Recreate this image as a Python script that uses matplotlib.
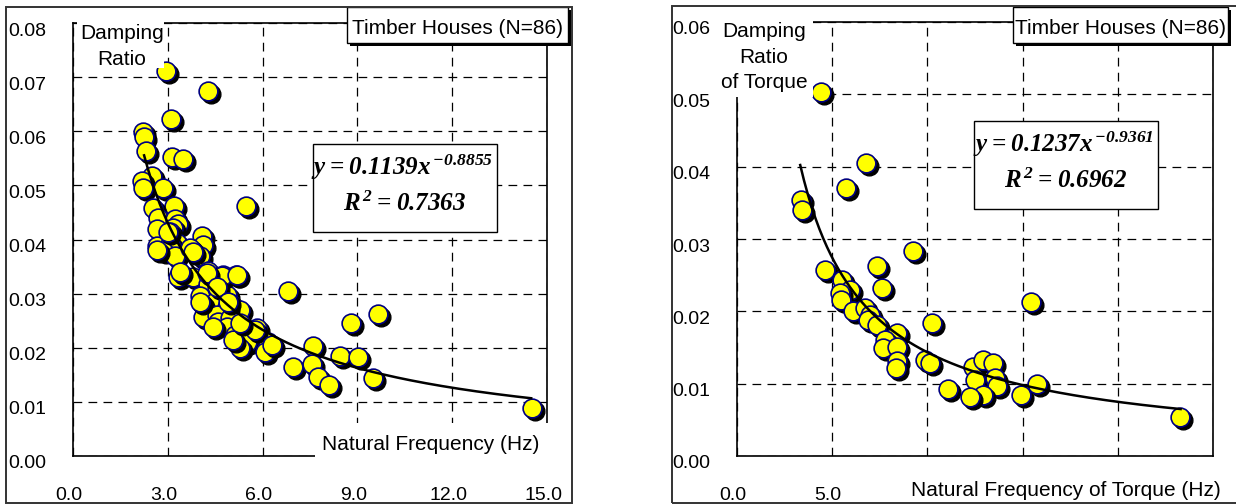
import numpy as np
import matplotlib
matplotlib.use('Agg')
import matplotlib.pyplot as plt
import matplotlib.transforms as mtransforms
from matplotlib.patches import Rectangle
from matplotlib.ticker import FormatStrFormatter

plt.rcParams['font.family'] = ['Liberation Sans', 'DejaVu Sans']
plt.rcParams['mathtext.default'] = 'regular'

# ---- data ----
# left: damping ratio vs natural frequency
freq = [2.94, 4.27, 3.10, 2.22, 2.25, 2.31, 3.13, 3.48, 2.50, 2.18,
        2.22, 2.85, 5.47, 3.20, 2.53, 2.69, 3.23, 3.32, 2.66, 3.16,
        3.07, 4.08, 3.29, 4.10, 2.66, 3.07, 2.85, 3.23, 3.80, 4.02,
        3.70, 3.32, 3.80, 4.27, 4.75, 5.16, 4.27, 4.59, 6.80, 4.02,
        4.87, 4.49, 4.08, 4.97, 5.28, 4.87, 4.11, 4.56, 4.59, 4.97,
        4.87, 4.43, 5.44, 5.82, 5.13, 5.44, 5.22, 5.51, 6.17, 6.08,
        5.28, 6.96, 9.65, 8.80, 7.60, 8.45, 9.02, 7.56, 7.75, 8.10,
        9.49, 14.52, 2.66, 3.80, 5.06, 5.76, 6.30, 4.70, 5.19, 4.24,
        4.55, 4.02, 3.40, 4.90, 5.30, 3.00]
damping = [0.0711, 0.0674, 0.0622, 0.0598, 0.0590, 0.0563, 0.0552, 0.0548, 0.0517, 0.0508,
           0.0496, 0.0496, 0.0461, 0.0461, 0.0459, 0.0440, 0.0437, 0.0428, 0.0420, 0.0422,
           0.0413, 0.0406, 0.0394, 0.0390, 0.0388, 0.0392, 0.0378, 0.0370, 0.0378, 0.0369,
           0.0385, 0.0330, 0.0330, 0.0341, 0.0335, 0.0335, 0.0317, 0.0313, 0.0304, 0.0296,
           0.0298, 0.0285, 0.0280, 0.0283, 0.0270, 0.0276, 0.0257, 0.0260, 0.0248, 0.0255,
           0.0239, 0.0239, 0.0233, 0.0237, 0.0224, 0.0220, 0.0209, 0.0211, 0.0211, 0.0192,
           0.0200, 0.0165, 0.0263, 0.0246, 0.0204, 0.0184, 0.0183, 0.0170, 0.0146, 0.0131,
           0.0144, 0.0089, 0.0381, 0.0376, 0.0215, 0.0233, 0.0206, 0.0332, 0.0335, 0.0339,
           0.0313, 0.0285, 0.0340, 0.0285, 0.0245, 0.0413]

# right: damping ratio of torque vs natural frequency of torque
freq_torque = [4.41, 6.78, 5.72, 3.36, 3.41, 9.24, 4.62, 7.35, 7.62, 5.51,
               5.93, 5.41, 5.45, 6.09, 6.72, 7.00, 6.90, 7.35, 8.40, 7.77,
               7.67, 8.40, 8.40, 8.35, 10.24, 9.87, 10.15, 11.10, 15.44, 12.40,
               12.92, 13.45, 12.50, 13.55, 13.65, 12.92, 12.24, 14.90, 15.76, 23.27]
damping_torque = [0.0503, 0.0405, 0.0370, 0.0354, 0.0340, 0.0283, 0.0257, 0.0263, 0.0232, 0.0243,
                  0.0229, 0.0225, 0.0215, 0.0201, 0.0205, 0.0195, 0.0188, 0.0181, 0.0170, 0.0160,
                  0.0150, 0.0151, 0.0131, 0.0122, 0.0184, 0.0133, 0.0128, 0.0093, 0.0213, 0.0123,
                  0.0133, 0.0128, 0.0105, 0.0108, 0.0097, 0.0085, 0.0082, 0.0084, 0.0100, 0.0054]

# tick labels (the right panel's upper x labels are hidden under its axis title)
xticklabels_left = ['0.0', '3.0', '6.0', '9.0', '12.0', '15.0']
xticklabels_right = ['0.0', '5.0', '', '', '', '']

# power-law fits y = a * x^b and the x span they are drawn over
fit_left = (0.1139, -0.8855)
r2_left = 0.7363
fit_left_span = (2.25, 14.5)
fit_right = (0.1237, -0.9361)
r2_right = 0.6962
fit_right_span = (3.32, 23.3)

W, H = 1236, 504


def fx(x):
    return x / W


def fy(y):
    return 1 - y / H


fig = plt.figure(figsize=(W / 100, H / 100), dpi=100)
fig.patch.set_facecolor('white')

ax1 = fig.add_axes([fx(73), fy(456), (547 - 73) / W, (456 - 23) / H])
ax2 = fig.add_axes([fx(737), fy(456), (1213 - 737) / W, (456 - 22) / H])

dash = (0, (7, 5))


def draw_panel(ax, xs, ys, fit, span, xmax, xstep, ymax, ystep, xlabels):
    ax.set_xlim(0, xmax)
    ax.set_ylim(0, ymax)
    ax.set_xticks(np.arange(0, xmax + xstep / 2, xstep), xlabels)
    ax.set_yticks(np.arange(0, ymax + ystep / 2, ystep))
    ax.yaxis.set_major_formatter(FormatStrFormatter('%.2f'))
    ax.tick_params(length=0, labelsize=14, colors='black')
    ax.tick_params(axis='y', pad=19)
    ax.tick_params(axis='x', pad=22)
    ax.grid(True, color='black', lw=0.9, linestyle=dash)
    for s in ax.spines.values():
        s.set_linewidth(1.2)
        s.set_color('black')

    shadow = mtransforms.offset_copy(ax.transData, fig=fig, x=3, y=-3, units='dots')
    for i, (xi, yi) in enumerate(zip(xs, ys)):
        z = 3 + i * 0.01
        ax.plot(xi, yi, 'o', ms=13.5, color='black', mec='black',
                transform=shadow, zorder=z, clip_on=False)
        ax.plot(xi, yi, 'o', ms=13.5, mfc='#ffff00', mec='#000080', mew=1.2,
                zorder=z + 0.005, clip_on=False)

    a, b = fit
    xx = np.linspace(span[0], span[1], 200)
    ax.plot(xx, a * xx ** b, color='black', lw=1.8, zorder=10)

    # labels sit a few pixels low / left in the original
    for lbl in ax.get_yticklabels():
        lbl.set_transform(lbl.get_transform() +
                          mtransforms.ScaledTranslation(0, -0.06, fig.dpi_scale_trans))
    for lbl in ax.get_xticklabels():
        lbl.set_transform(lbl.get_transform() +
                          mtransforms.ScaledTranslation(-0.04, 0, fig.dpi_scale_trans))


draw_panel(ax1, freq, damping, fit_left, fit_left_span, 15, 3, 0.08, 0.01, xticklabels_left)
draw_panel(ax2, freq_torque, damping_torque, fit_right, fit_right_span, 25, 5, 0.06, 0.01,
           xticklabels_right)


def add_rect(x0, y0, x1, y1, **kw):
    r = Rectangle((fx(x0), fy(y1)), (x1 - x0) / W, (y1 - y0) / H,
                  transform=fig.transFigure, **kw)
    fig.add_artist(r)
    return r


# outer frames
add_rect(6, 7, 572, 503, fill=False, ec='#333333', lw=1.4, zorder=20)
add_rect(672, 6, 1240, 503, fill=False, ec='#333333', lw=1.4, zorder=20)

# white covers behind the axis titles
add_rect(77, 9, 164, 68, fc='white', ec='none', zorder=5)
add_rect(315, 423, 553, 470, fc='white', ec='none', zorder=5)
add_rect(714, 8, 813, 97, fc='white', ec='none', zorder=5)
add_rect(900, 476, 1234, 501, fc='white', ec='none', zorder=5)

fig.text(fx(122), fy(24), 'Damping\nRatio', ha='center', va='top',
         fontsize=15, linespacing=1.45, zorder=6)
fig.text(fx(431), fy(445), 'Natural Frequency (Hz)', ha='center', va='center',
         fontsize=15, zorder=6)
fig.text(fx(764), fy(22), 'Damping\nRatio\nof Torque', ha='center', va='top',
         fontsize=15, linespacing=1.45, zorder=6)
fig.text(fx(1066), fy(491), 'Natural Frequency of Torque (Hz)', ha='center', va='center',
         fontsize=15, zorder=6)

# title boxes with shadow
for x0, x1 in [(347, 568), (1013, 1228)]:
    add_rect(x0 + 3, 10, x1 + 3, 46, fc='black', ec='none', zorder=7)
    add_rect(x0, 7, x1, 43, fc='white', ec='black', lw=1.0, zorder=8)
    fig.text(fx((x0 + x1) / 2), fy(29), 'Timber Houses (N=86)', ha='center',
             va='center', fontsize=15, zorder=9)

# equation boxes
eq_font = dict(family='Liberation Serif', weight='bold', style='italic', fontsize=18)
for (x0, y0, x1, y1), fit, r2 in [((313, 144, 497, 232), fit_left, r2_left),
                                   ((974, 121, 1158, 209), fit_right, r2_right)]:
    add_rect(x0, y0, x1, y1, fc='white', ec='black', lw=1.0, zorder=8)
    xc = (x0 + x1) / 2
    a, b = fit
    fig.text(fx(xc - 3), fy(y0 + 23), r'$y = %.4fx^{\,{-}%.4f}$' % (a, abs(b)),
             ha='center', va='center', zorder=9, **eq_font)
    fig.text(fx(xc), fy(y0 + 60), r'$R^{\,2} = %.4f$' % r2,
             ha='center', va='center', zorder=9, **eq_font)

fig.savefig('out.png', dpi=100)
